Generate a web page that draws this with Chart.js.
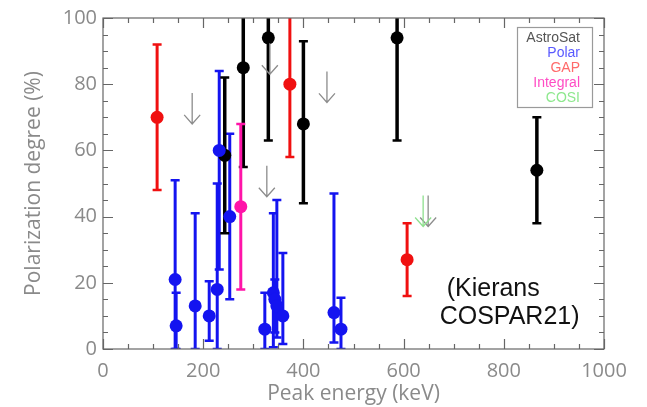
<!DOCTYPE html>
<html>
<head>
<meta charset="utf-8">
<script src="https://cdn.jsdelivr.net/npm/chart.js@4.4.1/dist/chart.umd.min.js"></script>
<style>
  html, body { margin: 0; padding: 0; background: #fff; }
  #wrap { width: 647px; height: 407px; }
</style>
</head>
<body>
<div id="wrap"><canvas id="polChart"></canvas></div>
<script>
// Polar (blue)
const polarEnergy = [144, 146, 184, 212, 228, 232, 253, 323, 340, 343, 347, 359, 461, 475]
const polarDegree = [21, 7, 13, 10, 18, 60, 40, 6, 17, 15, 13, 10, 11, 6]
const polarLow = [0, 0, 0, 2.5, 0, 24, 15, 0, 0.5, 5, 3.5, 1.5, 2, 0]
const polarHigh = [51, 17, 41, 20.5, 50, 84, 65, 17, 41, 21, 45, 29, 47, 15.5]

// AstroSat (black)
const astroEnergy = [243, 280, 330, 400, 587, 866]
const astroDegree = [58.5, 85, 94, 68, 94, 54]
const astroLow = [35, 55, 63, 44, 63, 38]
const astroHigh = [82, 120, 120, 93, 120, 70]

// GAP (red)
const gapEnergy = [108, 373, 607]
const gapDegree = [70, 80, 27]
const gapLow = [48, 58, 16]
const gapHigh = [92, 120, 38]

// Integral (magenta)
const integralEnergy = [275]
const integralDegree = [43]
const integralLow = [18]
const integralHigh = [68]

// upper limits (grey arrows) and COSI (green arrow)
const limitEnergy = [178, 327, 333, 447, 649]
const limitDegree = [68, 46, 83, 74.5, 37]
const cosiEnergy = [639]
const cosiDegree = [37]

// tick labels
const xTickLabels = [0, 200, 400, 600, 800, 1000]
const yTickLabels = [0, 20, 40, 60, 80, 100]

const legendNames = ['AstroSat', 'Polar', 'GAP', 'Integral', 'COSI']
const noteLines = ['(Kierans', 'COSPAR21)']

const AXIS_GREY = '#666'
const TEXT_GREY = '#8a8a8a'

function toPoints(xs, ys) {
  return xs.map((x, i) => ({ x: x, y: ys[i] }))
}

function errDataset(label, xs, ys, lo, hi, color, legendColor, barWidth) {
  return {
    label: label,
    data: toPoints(xs, ys),
    errLow: lo,
    errHigh: hi,
    barWidth: barWidth,
    legendColor: legendColor,
    backgroundColor: color,
    borderColor: color,
    pointRadius: 6.5,
    pointHoverRadius: 6.5,
    borderWidth: 0,
  }
}

function arrowDataset(label, xs, ys, color, legendColor) {
  return {
    label: label,
    data: toPoints(xs, ys),
    isLimit: true,
    legendColor: legendColor,
    borderColor: color,
    backgroundColor: color,
    pointRadius: 0,
  }
}

//rysuje slupki bledow pod punktami
const errorBars = {
  id: 'errorBars',
  beforeDatasetsDraw(chart) {
    const { ctx, chartArea, scales } = chart
    ctx.save()
    ctx.beginPath()
    ctx.rect(chartArea.left, chartArea.top, chartArea.width, chartArea.height)
    ctx.clip()
    chart.data.datasets.forEach((ds) => {
      if (!ds.errLow) return
      ctx.strokeStyle = ds.borderColor
      ds.data.forEach((p, i) => {
        const px = scales.x.getPixelForValue(p.x)
        const yLo = scales.y.getPixelForValue(ds.errLow[i])
        const yHi = scales.y.getPixelForValue(ds.errHigh[i])
        ctx.lineWidth = ds.barWidth
        ctx.beginPath()
        ctx.moveTo(px, yLo)
        ctx.lineTo(px, yHi)
        ctx.stroke()
        ctx.lineWidth = 2.5
        ctx.beginPath()
        ctx.moveTo(px - 4.5, yLo)
        ctx.lineTo(px + 4.5, yLo)
        ctx.moveTo(px - 4.5, yHi)
        ctx.lineTo(px + 4.5, yHi)
        ctx.stroke()
      })
    })
    ctx.restore()
  },
}

//strzalki dla gornych limitow
const limitArrows = {
  id: 'limitArrows',
  afterDatasetsDraw(chart) {
    const { ctx, scales } = chart
    ctx.save()
    ctx.lineWidth = 1.3
    chart.data.datasets.forEach((ds) => {
      if (!ds.isLimit) return
      ctx.strokeStyle = ds.borderColor
      ds.data.forEach((p) => {
        const px = scales.x.getPixelForValue(p.x)
        const py = scales.y.getPixelForValue(p.y)
        ctx.beginPath()
        ctx.moveTo(px, py)
        ctx.lineTo(px, py - 31)
        ctx.moveTo(px - 8, py - 9)
        ctx.lineTo(px, py)
        ctx.lineTo(px + 8, py - 9)
        ctx.stroke()
      })
    })
    ctx.restore()
  },
}

//ramka z tickami do srodka na wszystkich czterech bokach
const frameTicks = {
  id: 'frameTicks',
  afterDraw(chart) {
    const { ctx, chartArea: a, scales } = chart
    ctx.save()
    ctx.strokeStyle = AXIS_GREY
    ctx.lineWidth = 1.2
    ctx.strokeRect(a.left, a.top, a.right - a.left, a.bottom - a.top)
    ctx.beginPath()
    scales.x.ticks.forEach((t) => {
      const len = xTickLabels.includes(t.value) ? 10 : 5
      const px = Math.round(scales.x.getPixelForValue(t.value)) + 0.5
      ctx.moveTo(px, a.bottom)
      ctx.lineTo(px, a.bottom - len)
      ctx.moveTo(px, a.top)
      ctx.lineTo(px, a.top + len)
    })
    scales.y.ticks.forEach((t) => {
      const len = yTickLabels.includes(t.value) ? 10 : 5
      const py = Math.round(scales.y.getPixelForValue(t.value)) + 0.5
      ctx.moveTo(a.left, py)
      ctx.lineTo(a.left + len, py)
      ctx.moveTo(a.right, py)
      ctx.lineTo(a.right - len, py)
    })
    ctx.stroke()
    ctx.restore()
  },
}

//legenda: sam kolorowy tekst w ramce + dopisek
const textBoxes = {
  id: 'textBoxes',
  afterDraw(chart) {
    const { ctx, scales } = chart
    ctx.save()
    const entries = chart.data.datasets.filter((ds) => legendNames.includes(ds.label))
    const ordered = legendNames.map((n) => entries.find((ds) => ds.label === n))
    ctx.strokeStyle = '#9a9a9a'
    ctx.lineWidth = 1.2
    ctx.fillStyle = '#fff'
    ctx.fillRect(517.5, 27.5, 75, 80)
    ctx.strokeRect(517.5, 27.5, 75, 80)
    ctx.font = '14px "Liberation Sans", sans-serif'
    ctx.textAlign = 'right'
    ctx.textBaseline = 'middle'
    ordered.forEach((ds, i) => {
      ctx.fillStyle = ds.legendColor
      ctx.fillText(ds.label, 580, 38 + i * 15)
    })

    ctx.fillStyle = '#111'
    ctx.textAlign = 'left'
    ctx.font = '25px "Liberation Sans", Arial, sans-serif'
    ctx.fillText(noteLines[0], scales.x.getPixelForValue(686), scales.y.getPixelForValue(18))
    ctx.fillText(noteLines[1], scales.x.getPixelForValue(672), scales.y.getPixelForValue(9.5))
    ctx.restore()
  },
}

function main() {
  const datasets = [
    errDataset('Polar', polarEnergy, polarDegree, polarLow, polarHigh, '#1414f0', '#5a5aff', 3),
    errDataset('AstroSat', astroEnergy, astroDegree, astroLow, astroHigh, '#000', '#555', 3.5),
    errDataset('GAP', gapEnergy, gapDegree, gapLow, gapHigh, '#f01010', '#ff6a6a', 3),
    errDataset('Integral', integralEnergy, integralDegree, integralLow, integralHigh, '#ff14a8', '#ff4cc4', 3),
    arrowDataset('limits', limitEnergy, limitDegree, '#8c8c8c', '#888'),
    arrowDataset('COSI', cosiEnergy, cosiDegree, '#8ee08e', '#8ee88e'),
  ]

  const tickFont = { family: '"Open Sans", sans-serif', size: 20 }
  const titleFont = { family: '"Open Sans", sans-serif', size: 21, lineHeight: 1.2 }

  new Chart(document.getElementById('polChart'), {
    type: 'scatter',
    data: { datasets: datasets },
    options: {
      responsive: true,
      maintainAspectRatio: false,
      animation: false,
      layout: { padding: { top: 11, right: 43, left: 0, bottom: 0 } },
      plugins: { legend: { display: false }, tooltip: { enabled: false } },
      scales: {
        x: {
          type: 'linear',
          min: 0,
          max: 1000,
          grid: { display: false, drawTicks: false },
          border: { display: false },
          ticks: {
            stepSize: 50,
            autoSkip: false,
            maxRotation: 0,
            padding: 10,
            color: TEXT_GREY,
            font: tickFont,
            callback: (v) => (xTickLabels.includes(v) ? String(v) : ''),
          },
          title: { display: true, text: 'Peak energy (keV)', color: TEXT_GREY, font: titleFont, padding: 0 },
          afterFit(scale) { scale.height = 58 },
        },
        y: {
          type: 'linear',
          min: 0,
          max: 100,
          grid: { display: false, drawTicks: false },
          border: { display: false },
          ticks: {
            stepSize: 5,
            autoSkip: false,
            padding: 6,
            color: TEXT_GREY,
            font: tickFont,
            callback: (v) => (yTickLabels.includes(v) ? String(v) : ''),
          },
          title: { display: true, text: 'Polarization degree (%)', color: TEXT_GREY, font: titleFont, padding: { top: 21, bottom: 0 } },
          afterFit(scale) { scale.width = 103 },
        },
      },
    },
    plugins: [errorBars, limitArrows, frameTicks, textBoxes],
  })
}
main()
</script>
</body>
</html>
